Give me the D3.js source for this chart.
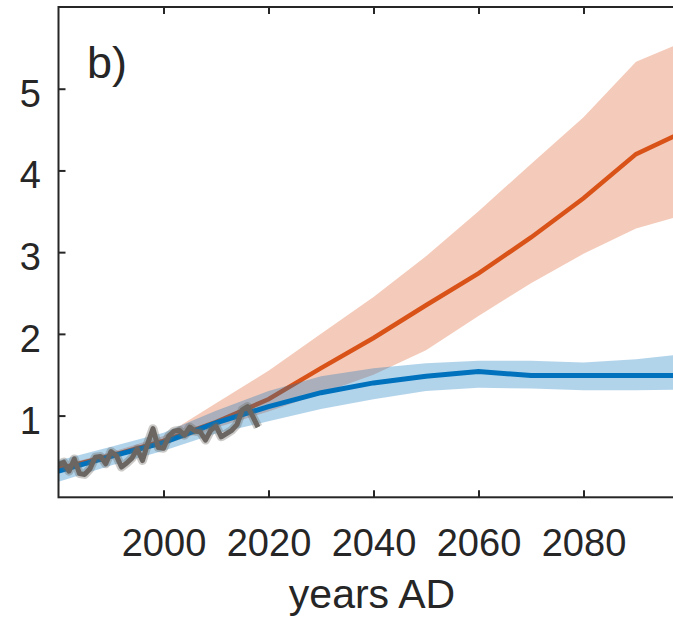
<!DOCTYPE html>
<html>
<head>
<meta charset="utf-8">
<script src="https://cdn.jsdelivr.net/npm/d3@7"></script>
<style>
  body { margin: 0; background: #fff; overflow: hidden; }
  text { font-family: "Liberation Sans", Arial, Helvetica, sans-serif; fill: #262626; }
</style>
</head>
<body>
<div class="canva"></div>
<script>
// projection years (decadal)
const years = [1980, 1990, 2000, 2010, 2020, 2030, 2040, 2050, 2060, 2070, 2080, 2090, 2100];

// low emission scenario (blue)
const lowMean  = [0.32, 0.50, 0.67, 0.91, 1.11, 1.28, 1.40, 1.48, 1.54, 1.49, 1.49, 1.49, 1.49];
const lowUpper = [0.45, 0.62, 0.79, 1.06, 1.30, 1.48, 1.58, 1.64, 1.67, 1.67, 1.65, 1.69, 1.76];
const lowLower = [0.19, 0.39, 0.57, 0.78, 0.93, 1.08, 1.20, 1.30, 1.34, 1.33, 1.31, 1.31, 1.32];

// high emission scenario (orange)
const highMean  = [0.35, 0.51, 0.69, 0.92, 1.20, 1.58, 1.95, 2.35, 2.74, 3.18, 3.66, 4.20, 4.50];
const highUpper = [0.38, 0.55, 0.75, 1.15, 1.55, 2.00, 2.45, 2.95, 3.50, 4.08, 4.65, 5.33, 5.60];
const highLower = [0.33, 0.48, 0.64, 0.85, 1.05, 1.27, 1.50, 1.80, 2.22, 2.62, 2.98, 3.29, 3.47];

// observations
const obsYears = d3.range(1980, 2019);
const obsVals = [0.40, 0.43, 0.32, 0.47, 0.29, 0.28, 0.35, 0.49, 0.50, 0.41,
                 0.56, 0.51, 0.37, 0.42, 0.48, 0.59, 0.45, 0.66, 0.84, 0.61,
                 0.60, 0.75, 0.81, 0.82, 0.76, 0.86, 0.81, 0.80, 0.70, 0.82,
                 0.87, 0.74, 0.78, 0.82, 0.89, 1.07, 1.11, 0.99, 0.86];

const xTicks = [2000, 2020, 2040, 2060, 2080];
const yTicks = [1, 2, 3, 4, 5];

const width = 673, height = 618;
const margin = { top: 7, left: 58.5, bottom: 497.3, right: 688.5 };

const svg = d3.select('.canva').append('svg')
  .attr('width', width)
  .attr('height', height);

const x = d3.scaleLinear().domain([1980, 2100]).range([margin.left, margin.right]);
const y = d3.scaleLinear().domain([0, 6]).range([margin.bottom, margin.top]);

svg.append('clipPath').attr('id', 'plotclip')
  .append('rect')
  .attr('x', margin.left).attr('y', margin.top)
  .attr('width', margin.right - margin.left)
  .attr('height', margin.bottom - margin.top);

const plot = svg.append('g').attr('clip-path', 'url(#plotclip)');

const band = (up, lo) => d3.area()
  .x((d, i) => x(years[i]))
  .y0((d, i) => y(lo[i]))
  .y1((d, i) => y(up[i]));

const line = vals => d3.line()
  .x((d, i) => x(years[i]))
  .y((d, i) => y(vals[i]));

// orange
plot.append('path').datum(highMean)
  .attr('d', band(highUpper, highLower))
  .attr('fill', '#D95319').attr('fill-opacity', 0.3);
plot.append('path').datum(highMean)
  .attr('d', line(highMean))
  .attr('fill', 'none').attr('stroke', '#D95319').attr('stroke-width', 4.5);

// blue
plot.append('path').datum(lowMean)
  .attr('d', band(lowUpper, lowLower))
  .attr('fill', '#0072BD').attr('fill-opacity', 0.3);
plot.append('path').datum(lowMean)
  .attr('d', line(lowMean))
  .attr('fill', 'none').attr('stroke', '#0072BD').attr('stroke-width', 5);

// observations
const obsLine = d3.line()
  .x((d, i) => x(obsYears[i]))
  .y(d => y(d));
plot.append('path').datum(obsVals)
  .attr('d', obsLine)
  .attr('fill', 'none').attr('stroke', '#6b6661').attr('stroke-opacity', 0.35)
  .attr('stroke-width', 9).attr('stroke-linejoin', 'round');
plot.append('path').datum(obsVals)
  .attr('d', obsLine)
  .attr('fill', 'none').attr('stroke', '#6b6661')
  .attr('stroke-width', 5).attr('stroke-linejoin', 'round');

// axes
const axisColor = '#262626';
const xAxis = svg.append('g')
  .attr('transform', `translate(0,${margin.bottom})`)
  .call(d3.axisBottom(x).tickValues(xTicks).tickSize(-7).tickFormat(d3.format('d')));
xAxis.selectAll('text').attr('y', 59).attr('dy', 0).attr('font-size', 38);

const xAxisTop = svg.append('g')
  .attr('transform', `translate(0,${margin.top})`)
  .call(d3.axisTop(x).tickValues(xTicks).tickSize(-7).tickFormat(''));

const yAxis = svg.append('g')
  .attr('transform', `translate(${margin.left},0)`)
  .call(d3.axisLeft(y).tickValues(yTicks).tickSize(-7).tickPadding(17.5).tickFormat(d3.format('d')));
yAxis.selectAll('text').attr('dy', '0.46em').attr('font-size', 38);

[xAxis, xAxisTop, yAxis].forEach(g => {
  g.select('.domain').remove();
  g.selectAll('line').attr('stroke', axisColor).attr('stroke-width', 2);
});

// box
svg.append('rect')
  .attr('x', margin.left).attr('y', margin.top)
  .attr('width', margin.right - margin.left)
  .attr('height', margin.bottom - margin.top)
  .attr('fill', 'none').attr('stroke', axisColor).attr('stroke-width', 2);

// labels
svg.append('text')
  .attr('x', 372).attr('y', 608)
  .attr('text-anchor', 'middle').attr('font-size', 41)
  .text('years AD');

svg.append('text')
  .attr('x', 87).attr('y', 78)
  .attr('font-size', 45)
  .text('b)');
</script>
</body>
</html>
